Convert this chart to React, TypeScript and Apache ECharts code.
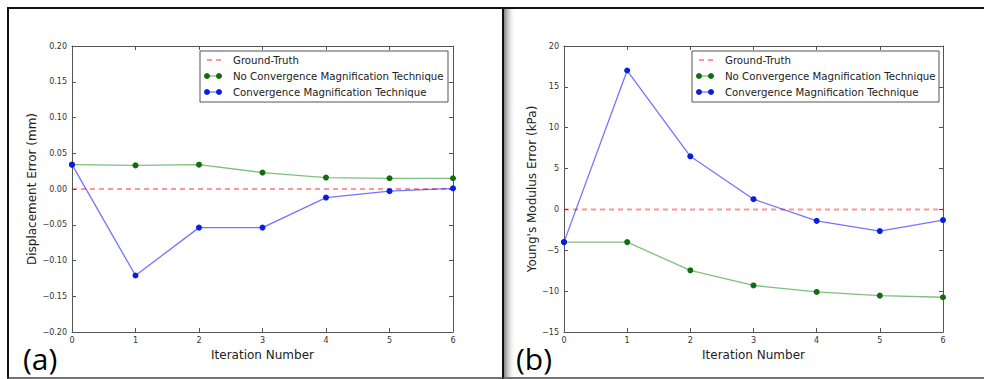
import React, { useEffect, useRef } from "react";
import * as echarts from "echarts";

const iterations = [0, 1, 2, 3, 4, 5, 6];
const seriesNames = [
  "Ground-Truth",
  "No Convergence Magnification Technique",
  "Convergence Magnification Technique",
];
const dispGroundTruth = [0, 0, 0, 0, 0, 0, 0];
const dispNoCMT = [0.034, 0.033, 0.034, 0.023, 0.016, 0.015, 0.015];
const dispCMT = [0.034, -0.121, -0.054, -0.054, -0.012, -0.003, 0.001];
const ymGroundTruth = [0, 0, 0, 0, 0, 0, 0];
const ymNoCMT = [-4, -4, -7.45, -9.3, -10.1, -10.55, -10.75];
const ymCMT = [-4, 17, 6.5, 1.25, -1.4, -2.65, -1.3];
const dispRange = { min: -0.2, max: 0.2, interval: 0.05 };
const ymRange = { min: -15, max: 20, interval: 5 };
const xRange = { min: 0, max: 6, interval: 1 };
const panelLabels = ["(a)", "(b)"];
const axisTitles = {
  x: "Iteration Number",
  yLeft: "Displacement Error (mm)",
  yRight: "Young's Modulus Error (kPa)",
};

const FONT = "DejaVu Sans";
const GT_COLOR = "rgba(255,0,0,0.55)";
const GT_COLOR_B = "rgba(255,0,0,0.42)";
const G_LINE = "rgba(0,128,0,0.5)";
const G_MARK = "#0f6f0f";
const B_LINE = "rgba(0,0,255,0.55)";
const B_MARK = "#0a1ee0";
const FRAME = "#555";

const pairs = (ys: number[]) => iterations.map((x, i) => [x, ys[i]]);
const minus = (s: string) => s.replace("-", "\u2212");

function legendGraphics(x0: number, y0: number, w: number, gtColor: string, gtWidth: number) {
  const els: any[] = [
    {
      type: "rect",
      z: 100,
      shape: { x: x0, y: y0, width: w, height: 51 },
      style: { fill: "#fff", stroke: FRAME, lineWidth: 1 },
    },
  ];
  const colors = [
    [gtColor, gtColor],
    [G_LINE, G_MARK],
    [B_LINE, B_MARK],
  ];
  seriesNames.forEach((name, i) => {
    const y = y0 + 9 + 16 * i;
    if (i === 0) {
      els.push({
        type: "line",
        z: 101,
        shape: { x1: x0 + 7, y1: y, x2: x0 + 22, y2: y },
        style: { stroke: colors[i][0], lineWidth: gtWidth, lineDash: [5, 4] },
      });
    } else {
      els.push({
        type: "line",
        z: 101,
        shape: { x1: x0 + 7, y1: y, x2: x0 + 19, y2: y },
        style: { stroke: colors[i][0], lineWidth: 1.3 },
      });
      [x0 + 7, x0 + 19].forEach((cx) =>
        els.push({
          type: "circle",
          z: 102,
          shape: { cx, cy: y, r: 3 },
          style: { fill: colors[i][1] },
        })
      );
    }
    els.push({
      type: "text",
      z: 103,
      x: x0 + 33,
      y,
      style: {
        text: name,
        font: `10.2px "${FONT}"`,
        fill: "#222",
        verticalAlign: "middle",
      },
    });
  });
  return els;
}

export default function App() {
  const ref = useRef<HTMLDivElement>(null);
  useEffect(() => {
    document.body.style.margin = "0";
    if (!ref.current) return;
    const chart = echarts.init(ref.current, null, { renderer: "svg" });

    const grids = [
      { left: 72, top: 46, width: 381, height: 286 },
      { left: 564, top: 46, width: 379, height: 286 },
    ];
    const tickStyle = { show: true, inside: true, length: 4, lineStyle: { color: FRAME } };
    const labelStyle = { fontFamily: FONT, fontSize: 8, color: "#333" };
    const lineStyle = { show: true, onZero: false, lineStyle: { color: FRAME } };

    const xAxes: any[] = [];
    const yAxes: any[] = [];
    [0, 1].forEach((g) => {
      const yr = g === 0 ? dispRange : ymRange;
      xAxes.push({
        type: "value",
        gridIndex: g,
        position: "bottom",
        ...xRange,
        name: axisTitles.x,
        nameLocation: "middle",
        nameGap: 14,
        nameTextStyle: { fontFamily: FONT, fontSize: 12, color: "#222" },
        axisLine: lineStyle,
        axisTick: tickStyle,
        axisLabel: { ...labelStyle, margin: 4 },
        splitLine: { show: false },
      });
      xAxes.push({
        type: "value",
        gridIndex: g,
        position: "top",
        ...xRange,
        axisLine: lineStyle,
        axisTick: tickStyle,
        axisLabel: { show: false },
        splitLine: { show: false },
      });
      yAxes.push({
        type: "value",
        gridIndex: g,
        position: "left",
        ...yr,
        name: g === 0 ? axisTitles.yLeft : axisTitles.yRight,
        nameLocation: "middle",
        nameGap: g === 0 ? 34 : 25,
        nameTextStyle: { fontFamily: FONT, fontSize: 12, color: "#222" },
        axisLine: lineStyle,
        axisTick: tickStyle,
        axisLabel: {
          ...labelStyle,
          margin: 5,
          formatter: (v: number) => {
            const s = g === 0 ? v.toFixed(2) : String(Math.round(v));
            return s === "-0.00" || s === "-0" ? s.slice(1) : minus(s);
          },
        },
        splitLine: { show: false },
      });
      yAxes.push({
        type: "value",
        gridIndex: g,
        position: "right",
        ...yr,
        axisLine: lineStyle,
        axisTick: tickStyle,
        axisLabel: { show: false },
        splitLine: { show: false },
      });
    });

    const mk = (
      g: number,
      name: string,
      ys: number[],
      lineColor: string,
      markColor: string | null,
      dashed: boolean,
      width = 1.3
    ) => ({
      type: "line",
      name,
      xAxisIndex: g * 2,
      yAxisIndex: g * 2,
      data: pairs(ys),
      symbol: markColor ? "circle" : "none",
      symbolSize: 6,
      showSymbol: !!markColor,
      clip: false,
      lineStyle: { color: lineColor, width, type: dashed ? [5, 4] : "solid" },
      itemStyle: { color: markColor || lineColor },
      z: dashed ? 2 : 3,
    });

    const series = [
      mk(0, seriesNames[0], dispGroundTruth, GT_COLOR, null, true),
      mk(0, seriesNames[1], dispNoCMT, G_LINE, G_MARK, false),
      mk(0, seriesNames[2], dispCMT, B_LINE, B_MARK, false),
      mk(1, seriesNames[0], ymGroundTruth, GT_COLOR_B, null, true, 2),
      mk(1, seriesNames[1], ymNoCMT, G_LINE, G_MARK, false),
      mk(1, seriesNames[2], ymCMT, B_LINE, B_MARK, false),
    ];

    const graphic: any[] = [
      {
        type: "rect",
        shape: { x: 504, y: 9, width: 12, height: 368 },
        style: {
          fill: new echarts.graphic.LinearGradient(0, 0, 1, 0, [
            { offset: 0, color: "rgba(120,120,120,0.9)" },
            { offset: 1, color: "rgba(255,255,255,0)" },
          ]),
        },
      },
      { type: "line", shape: { x1: 7, y1: 8, x2: 984, y2: 8 }, style: { stroke: "#111", lineWidth: 2 } },
      { type: "line", shape: { x1: 8, y1: 7, x2: 8, y2: 379 }, style: { stroke: "#111", lineWidth: 2 } },
      { type: "line", shape: { x1: 503, y1: 7, x2: 503, y2: 379 }, style: { stroke: "#111", lineWidth: 2 } },
      { type: "line", shape: { x1: 7, y1: 378, x2: 984, y2: 378 }, style: { stroke: "#444", lineWidth: 1.5 } },
      ...legendGraphics(200, 51, 248, GT_COLOR, 1.3),
      ...legendGraphics(692, 51, 247, GT_COLOR_B, 2),
      {
        type: "text",
        x: 23,
        y: 373,
        style: { text: panelLabels[0], font: '30px "Open Sans"', fill: "#000", verticalAlign: "bottom" },
      },
      {
        type: "text",
        x: 516,
        y: 373,
        style: { text: panelLabels[1], font: '30px "Open Sans"', fill: "#000", verticalAlign: "bottom" },
      },
    ];

    chart.setOption({
      animation: false,
      backgroundColor: "#fff",
      grid: grids,
      xAxis: xAxes,
      yAxis: yAxes,
      series,
      graphic,
    });
    return () => chart.dispose();
  }, []);
  return <div ref={ref} style={{ width: 984, height: 379 }} />;
}
